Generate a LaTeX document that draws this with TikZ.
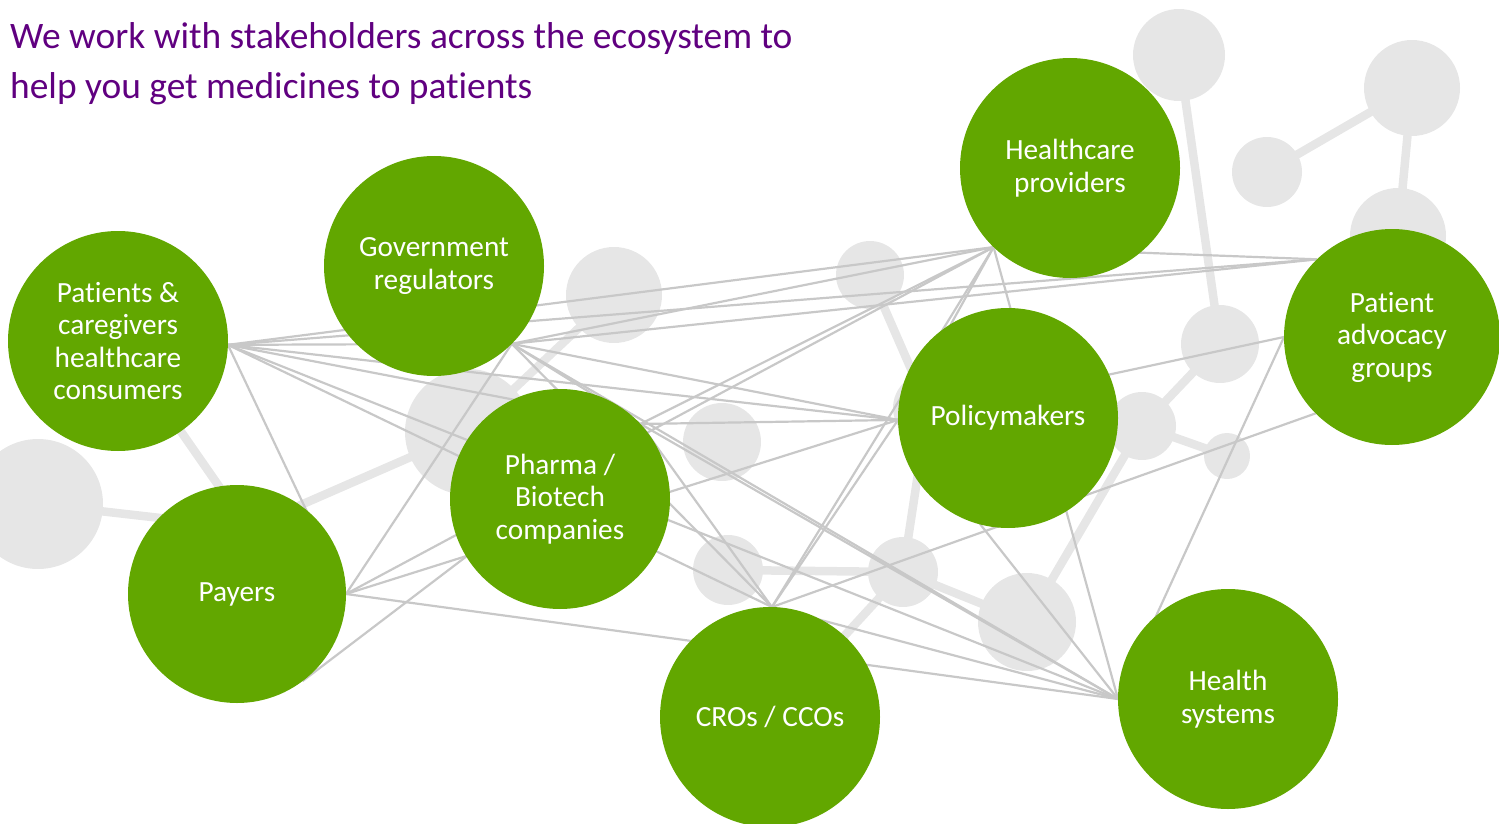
\documentclass[tikz,border=0pt]{standalone}
\usepackage{fontspec}
\setmainfont{Carlito}[Ligatures=NoCommon]
\definecolor{grn}{RGB}{98,167,0}
\definecolor{ttl}{RGB}{96,0,128}
\definecolor{bgg}{RGB}{230,230,230}
\definecolor{lng}{RGB}{200,200,200}
\pgfdeclarelayer{bglayer}
\pgfdeclarelayer{linklayer}
\pgfsetlayers{bglayer,linklayer,main}
\begin{document}
\begin{tikzpicture}[x=1pt,y=-1pt,
  stake/.style={circle, fill=grn, text=white, minimum size=220pt, inner sep=0pt, outer sep=0pt, align=center, font=\fontsize{29.3}{32.5}\selectfont},
  bgdot/.style={circle, fill=bgg, inner sep=0pt, outer sep=0pt},
  bglink/.style={draw=bgg, line width=8.5pt},
  link/.style={draw=lng, line width=2.2pt},
  titletext/.style={anchor=base west, text=ttl, inner sep=0pt, font=\fontsize{37.4}{50}\selectfont}
  ]
\useasboundingbox (0,0) rectangle (1499,824);
\clip (0,0) rectangle (1499,824);

% title
\node[titletext] (t1) at (10,49) {We work with stakeholders across the ecosystem to};
\node[titletext] (t2) at (10,99) {help you get medicines to patients};

% stakeholder circles
\node[stake] (pat) at (118,341) {Patients \&\\caregivers\\healthcare\\consumers};
\node[stake] (gov) at (434,266) {Government\\regulators};
\node[stake] (pha) at (560,499) {Pharma /\\Biotech\\companies};
\node[stake, minimum size=218pt] (pay) at (237,594) {Payers};
\node[stake] (hcp) at (1070,168) {Healthcare\\providers};
\node[stake] (pol) at (1008,418) {Policymakers};
\node[stake, minimum size=216pt] (pag) at (1392,337) {Patient\\advocacy\\groups};
\node[stake] (cro) at (770,717) {CROs / CCOs};
\node[stake] (hs) at (1228,699) {Health\\systems};

% background network
\begin{pgfonlayer}{bglayer}
\node[bgdot, minimum size=130pt] (g1) at (38,504) {};
\node[bgdot, minimum size=126pt] (g2) at (468,432) {};
\node[bgdot, minimum size=96pt] (g3) at (614,295) {};
\node[bgdot, minimum size=68pt] (g4) at (870,275) {};
\node[bgdot, minimum size=78pt] (g5) at (722,442) {};
\node[bgdot, minimum size=70pt] (g6) at (728,570) {};
\node[bgdot, minimum size=70pt] (g7) at (903,572) {};
\node[bgdot, minimum size=98pt] (g8) at (1027,622) {};
\node[bgdot, minimum size=68pt] (g9) at (1142,426) {};
\node[bgdot, minimum size=78pt] (g10) at (1220,344) {};
\node[bgdot, minimum size=46pt] (g11) at (1227,456) {};
\node[bgdot, minimum size=92pt] (g12) at (1179,55) {};
\node[bgdot, minimum size=70pt] (g13) at (1267,172) {};
\node[bgdot, minimum size=96pt] (g14) at (1412,88) {};
\node[bgdot, minimum size=96pt] (g15) at (1398,236) {};
\node[bgdot, minimum size=70pt] (g16) at (928,408) {};
\coordinate (h1) at (248,528);
\draw[bglink] (g1.center) -- (h1);
\draw[bglink] (pat.center) -- (h1);
\draw[bglink] (h1) -- (g2.center);
\draw[bglink] (g2.center) -- (g3.center);
\draw[bglink] (g4.center) -- (g16.center);
\draw[bglink] (g16.center) -- (g7.center);
\draw[bglink] (g6.center) -- (g7.center);
\draw[bglink] (g7.center) -- (g8.center);
\draw[bglink] (g7.center) -- (cro.center);
\draw[bglink] (g8.center) -- (g9.center);
\draw[bglink] (g9.center) -- (g10.center);
\draw[bglink] (g9.center) -- (g11.center);
\draw[bglink] (g10.center) -- (g12.center);
\draw[bglink] (g13.center) -- (g14.center);
\draw[bglink] (g14.center) -- (g15.center);
\end{pgfonlayer}

% thin connectors
\begin{pgfonlayer}{linklayer}
% from patients
\draw[link] (pat.-2) -- (gov.-45);
\draw[link] (pat.-2) -- (hcp.226);
\draw[link] (pat.-2) -- (pag.134);
\draw[link] (pat.-2) -- (pol.181);
\draw[link] (pat.-2) -- (pha.43);
\draw[link] (pat.-2) -- (cro.89);
\draw[link] (pat.-2) -- (hs.180);
\draw[link] (pat.-2) -- (pay.0);
% from government regulators
\draw[link] (gov.-45) -- (hcp.226);
\draw[link] (gov.-45) -- (pag.134);
\draw[link] (gov.-45) -- (pol.181);
\draw[link] (gov.-45) -- (pha.43);
\draw[link] (gov.-45) -- (cro.89);
\draw[link] (gov.-45) -- (hs.180);
\draw[link] (gov.-45) -- (pay.0);
% from healthcare providers
\draw[link] (hcp.226) -- (pag.134);
\draw[link] (hcp.226) -- (pol.181);
\draw[link] (hcp.226) -- (pha.43);
\draw[link] (hcp.226) -- (cro.89);
\draw[link] (hcp.226) -- (hs.180);
\draw[link] (hcp.226) -- (pay.0);
% from patient advocacy groups
\draw[link] (pag.180) -- (pol.181);
\draw[link] (pag.180) -- (hs.180);
\draw[link] (pag.225) -- (cro.89);
% from policymakers
\draw[link] (pol.181) -- (pha.43);
\draw[link] (pol.181) -- (cro.89);
\draw[link] (pol.181) -- (hs.180);
\draw[link] (pol.181) -- (pay.0);
% from pharma
\draw[link] (pha.43) -- (cro.89);
\draw[link] (pha.43) -- (hs.180);
\draw[link] (pha.43) -- (pay.-53);
% others
\draw[link] (cro.89) -- (hs.180);
\draw[link] (pay.0) -- (hs.180);
\end{pgfonlayer}
\end{tikzpicture}
\end{document}
